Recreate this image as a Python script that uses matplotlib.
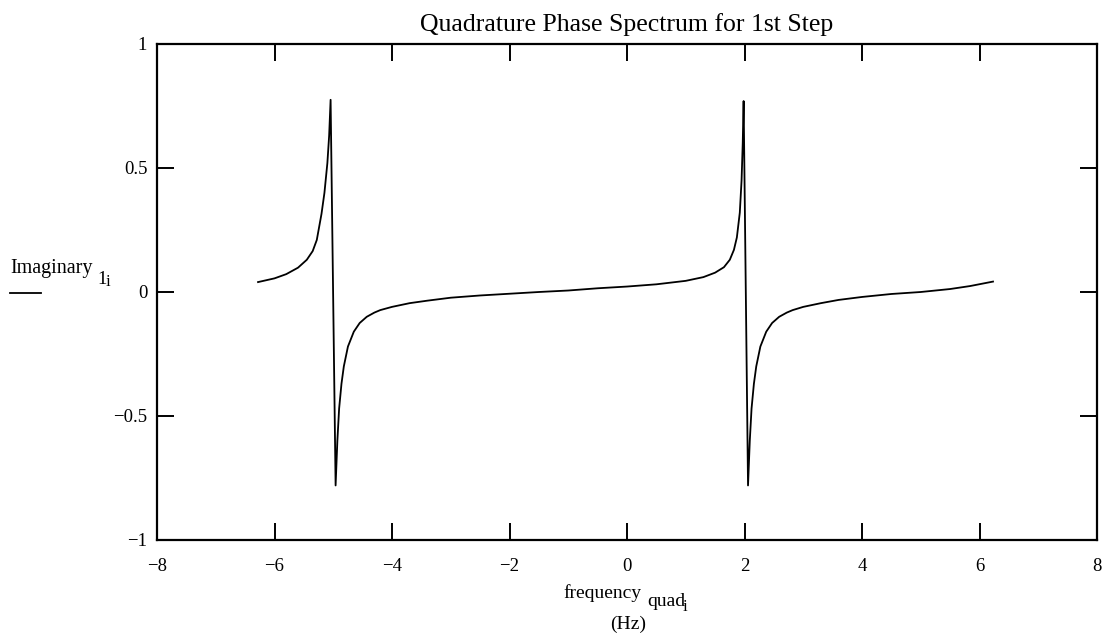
import matplotlib
matplotlib.use("Agg")
import matplotlib.pyplot as plt
from matplotlib.lines import Line2D

# Werte (Frequenz in Hz, Imaginärteil)
freq = [
    -6.28, -6.0, -5.8, -5.6, -5.45, -5.35, -5.28, -5.2, -5.15, -5.1, -5.07, -5.045,
    -4.96, -4.93, -4.90, -4.86, -4.82, -4.75, -4.65, -4.55, -4.43, -4.3, -4.2,
    -4.0, -3.7, -3.4, -3.0, -2.5, -2.0, -1.5, -1.0, -0.5, 0.0, 0.5, 1.0, 1.3,
    1.5, 1.65, 1.75, 1.82, 1.87, 1.92, 1.95, 1.97, 1.985,
    2.06, 2.09, 2.12, 2.16, 2.20, 2.27, 2.37, 2.47, 2.59, 2.72, 2.82,
    3.0, 3.3, 3.6, 4.0, 4.5, 5.0, 5.5, 5.84, 6.23,
]
imag = [
    0.040, 0.055, 0.072, 0.098, 0.13, 0.165, 0.21, 0.315, 0.40, 0.52, 0.63, 0.775,
    -0.78, -0.60, -0.47, -0.37, -0.30, -0.22, -0.16, -0.125, -0.10, -0.083, -0.073,
    -0.06, -0.045, -0.035, -0.023, -0.014, -0.007, 0.0, 0.006, 0.015, 0.022, 0.031, 0.045, 0.06,
    0.078, 0.10, 0.13, 0.17, 0.22, 0.32, 0.45, 0.60, 0.77,
    -0.78, -0.60, -0.47, -0.37, -0.30, -0.22, -0.16, -0.125, -0.10, -0.083, -0.073,
    -0.06, -0.045, -0.032, -0.02, -0.008, 0.0, 0.012, 0.024, 0.042,
]
xticks = [-8, -6, -4, -2, 0, 2, 4, 6, 8]
yticks = [-1, -0.5, 0, 0.5, 1]
yticklabels = ["\u22121", "\u22120.5", "0", "0.5", "1"]

W, H = 1103, 639
plt.rcParams["font.family"] = ["Liberation Serif", "DejaVu Serif"]

fig = plt.figure(figsize=(W / 100, H / 100), dpi=100)
ax = fig.add_axes([157 / W, 1 - 540 / H, 940 / W, 496 / H])

ax.plot(freq, imag, color="black", linewidth=1.3)

ax.set_xlim(-8, 8)
ax.set_ylim(-1, 1)
ax.set_xticks(xticks)
ax.set_xticklabels([str(t).replace("-", "\u2212") for t in xticks])
ax.set_yticks(yticks)
ax.set_yticklabels(yticklabels)
ax.tick_params(direction="in", length=12, width=1.4, top=True, right=True,
               labelsize=13.5, colors="black")
ax.tick_params(axis="x", pad=13)
ax.tick_params(axis="y", pad=7)
for sp in ax.spines.values():
    sp.set_linewidth(1.6)

ax.set_title("Quadrature Phase Spectrum for 1st Step", fontsize=18.5, pad=9)


def px(x, y):
    return x / W, 1 - y / H


# y-Beschriftung mit Indizes
fig.text(*px(10, 273), "Imaginary", fontsize=14.5, va="baseline")
fig.text(*px(97, 284), "1", fontsize=13.5, va="baseline")
fig.text(*px(106, 286), "i", fontsize=12, va="baseline")
fig.add_artist(Line2D([10 / W, 41 / W], [1 - 293 / H] * 2, color="black", linewidth=1.3))

# x-Beschriftung mit Indizes
fig.text(*px(563, 598), "frequency", fontsize=14, va="baseline")
fig.text(*px(647, 606), "quad", fontsize=14, va="baseline")
fig.text(*px(683, 611), "i", fontsize=12, va="baseline")
fig.text(*px(628, 629), "(Hz)", fontsize=14, ha="center", va="baseline")

fig.savefig("out.png", dpi=100)
